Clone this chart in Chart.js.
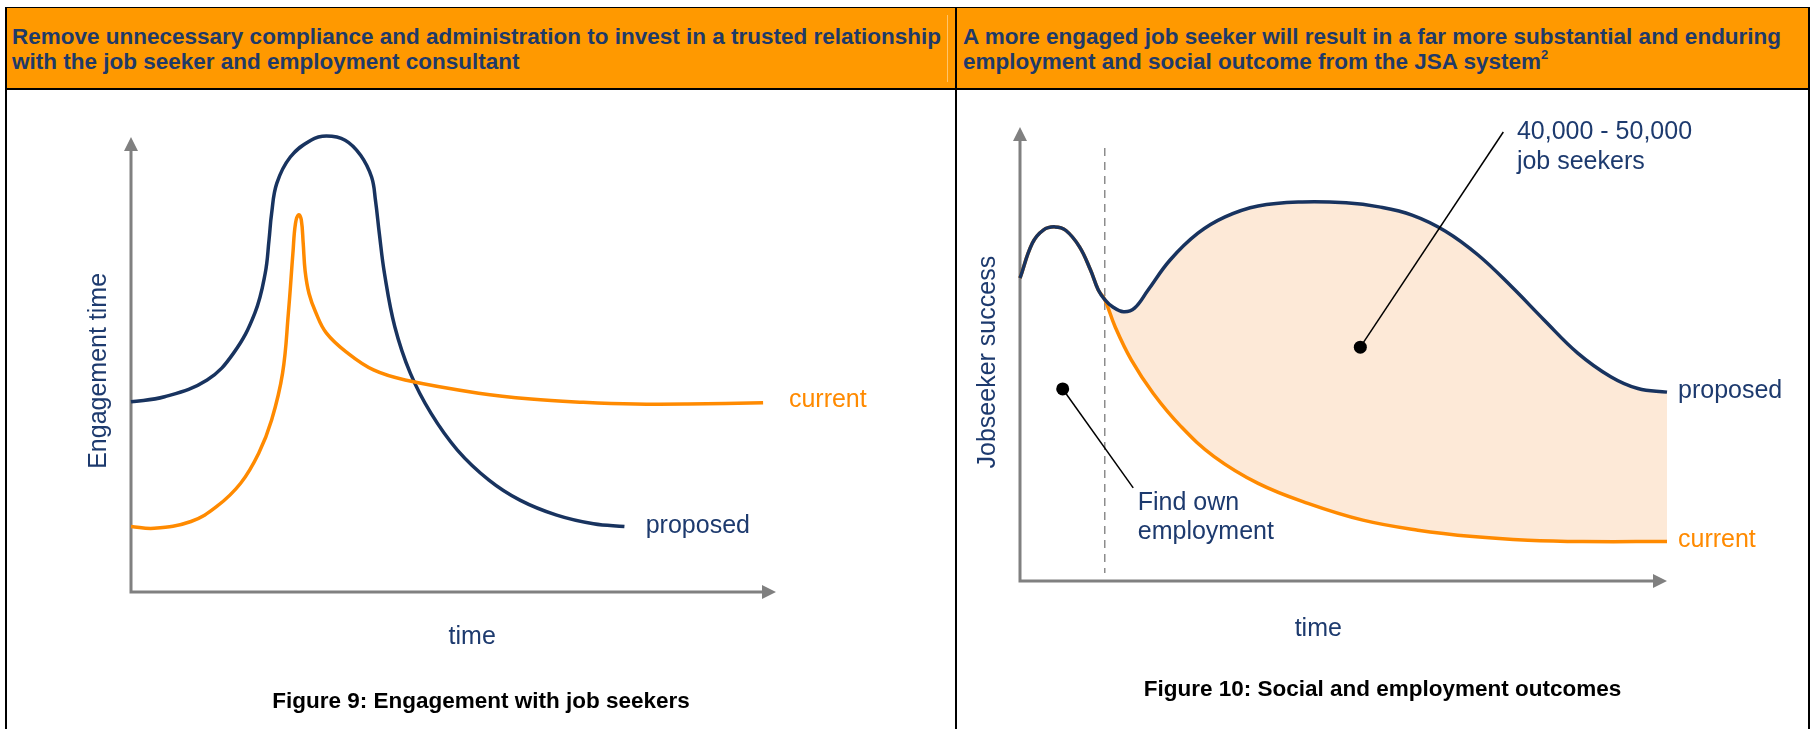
<!DOCTYPE html>
<html>
<head>
<meta charset="utf-8">
<script src="https://cdn.jsdelivr.net/npm/chart.js@4.4.1/dist/chart.umd.min.js"></script>
<style>
  html, body { margin: 0; padding: 0; background: #fff; }
  body { width: 1813px; height: 729px; position: relative; overflow: hidden; font-family: "Liberation Sans", Arial, sans-serif; }
  .rule { position: absolute; background: #000; }
  .head { position: absolute; top: 8px; height: 80px; left: 5px; width: 1805px; background: #ff9900; }
  .headText { position: absolute; top: 24px; font-weight: bold; font-size: 22.5px; line-height: 25px; color: #1f3a68; white-space: nowrap; }
  .headText sup { font-size: 13px; line-height: 0; vertical-align: 10px; }
  .caption { position: absolute; font-weight: bold; font-size: 22.5px; line-height: 25px; color: #000; white-space: nowrap; text-align: center; }
  canvas { position: absolute; }
</style>
</head>
<body>
<div class="head"></div>
<div class="rule" style="left:947px;top:15px;width:1px;height:67px;background:#ffc46a"></div>
<div class="rule" style="left:5px;top:7px;width:1805px;height:1px"></div>
<div class="rule" style="left:5px;top:88px;width:1805px;height:2px"></div>
<div class="rule" style="left:5px;top:7px;width:2px;height:722px"></div>
<div class="rule" style="left:955px;top:7px;width:2px;height:722px"></div>
<div class="rule" style="left:1808px;top:7px;width:2px;height:722px"></div>

<div class="headText" style="left:12px">Remove unnecessary compliance and administration to invest in a trusted relationship<br>with the job seeker and employment consultant</div>
<div class="headText" style="left:963px">A more engaged job seeker will result in a far more substantial and enduring<br>employment and social outcome from the JSA system<sup>2</sup></div>

<canvas id="engageChart" width="947" height="638" style="left:7px;top:91px;width:947px;height:638px"></canvas>
<canvas id="outcomeChart" width="850" height="638" style="left:958px;top:91px;width:850px;height:638px"></canvas>

<div class="caption" style="left:7px;width:948px;top:688px">Figure 9: Engagement with job seekers</div>
<div class="caption" style="left:957px;width:851px;top:676px">Figure 10: Social and employment outcomes</div>

<script>
// time runs 0..100 along x, the measure 0..100 up y (axis arrow tips at 100)
const engageProposed = [
  [0, 41.8], [5.2, 42.9], [11.8, 46.6], [15.9, 52.5], [19.2, 61.3], [20.8, 70.0],
  [21.4, 77.4], [21.8, 83.2], [22.6, 89.8], [24.7, 95.6], [27.9, 99.3], [30.3, 100.2],
  [33.2, 99.3], [35.6, 96.0], [37.3, 91.2], [37.9, 86.1], [38.5, 78.8], [39.3, 70.0],
  [40.9, 58.3], [43.3, 48.1], [46.5, 39.3], [50.6, 31.2], [55.5, 24.6], [60.3, 20.2],
  [66.0, 16.9], [71.7, 15.0], [76.5, 14.4]
];
const engageCurrent = [
  [0, 14.4], [3.6, 14.0], [9.3, 15.5], [13.3, 18.8], [17.0, 23.9], [19.8, 30.5],
  [21.8, 37.8], [23.5, 48.1], [24.4, 61.3], [25.1, 74.4], [25.5, 81.0], [26.0, 82.9],
  [26.4, 81.8], [26.7, 76.6], [27.0, 70.5], [27.6, 65.6], [28.6, 61.6], [30.3, 56.9],
  [33.6, 52.5], [37.6, 48.8], [42.5, 46.6], [53.9, 43.7], [62.0, 42.4], [70.1, 41.7],
  [78.2, 41.3], [86.3, 41.3], [98.0, 41.6]
];

const outcomeProposed = [
  [0, 66.7], [1.9, 74.4], [3.6, 77.3], [5.4, 78.0], [7.1, 77.2], [9.2, 73.6],
  [10.9, 68.5], [12.1, 64.1], [13.1, 62.0], [14.3, 60.4], [16.0, 59.3], [17.7, 60.1],
  [19.8, 64.1], [23.2, 70.7], [27.5, 76.6], [31.7, 80.2], [36.8, 82.6], [43.6, 83.5],
  [50.4, 83.3], [55.5, 82.4], [60.6, 80.6], [65.7, 77.1], [70.8, 71.8], [76.0, 64.8],
  [81.0, 57.5], [86.2, 50.2], [91.3, 45.0], [95.5, 42.4], [100, 41.6]
];
const outcomeCurrent = [
  [0, 66.7], [1.9, 74.4], [3.6, 77.3], [5.4, 78.0], [7.1, 77.2], [9.2, 73.6],
  [10.9, 68.5], [12.1, 64.1], [13.1, 62.0], [14.7, 56.0], [17.2, 48.7], [20.6, 41.3],
  [24.9, 34.0], [30.0, 27.4], [36.8, 21.5], [44.5, 17.1], [53.0, 13.4], [61.5, 11.2],
  [70.0, 9.8], [78.5, 9.0], [87.0, 8.7], [100, 8.7]
];
// point where job seekers who find their own work drop out
const outcomeSplit = 13.1;
// callout pointers: dot first, then the end near the text
const crowdPointer = [[52.6, 51.5], [74.7, 98.9]];
const ownPointer = [[6.6, 42.3], [17.5, 20.5]];

const crowdNote = ['40,000 - 50,000', 'job seekers'];
const ownNote = ['Find own', 'employment'];

const NAVY = '#18335f';
const NAVY_TEXT = '#1d3a6e';
const ORANGE = '#ff8a00';
const AXIS = '#808080';
const FONT = '25px "Liberation Sans", Arial, sans-serif';

const toPoints = pairs => pairs.map(([x, y]) => ({ x, y }));

// arrowed axes, divider and the text callouts
const sketchPlugin = {
  id: 'sketch',
  beforeDatasetsDraw(chart, args, opts) {
    const { ctx, chartArea: a, scales } = chart;
    ctx.save();
    if (opts.divider != null) {
      const dx = scales.x.getPixelForValue(opts.divider);
      ctx.strokeStyle = '#8c8c8c';
      ctx.lineWidth = 1.5;
      ctx.setLineDash([8, 6]);
      ctx.beginPath();
      ctx.moveTo(dx, a.top + 21);
      ctx.lineTo(dx, a.bottom - 8);
      ctx.stroke();
      ctx.setLineDash([]);
    }
    ctx.strokeStyle = AXIS;
    ctx.fillStyle = AXIS;
    ctx.lineWidth = 3;
    ctx.beginPath();
    ctx.moveTo(a.left, a.bottom + 1.5);
    ctx.lineTo(a.left, a.top + 12);
    ctx.moveTo(a.left - 1.5, a.bottom);
    ctx.lineTo(a.right - 12, a.bottom);
    ctx.stroke();
    ctx.beginPath();
    ctx.moveTo(a.left, a.top);
    ctx.lineTo(a.left - 7, a.top + 14);
    ctx.lineTo(a.left + 7, a.top + 14);
    ctx.closePath();
    ctx.moveTo(a.right, a.bottom);
    ctx.lineTo(a.right - 14, a.bottom - 7);
    ctx.lineTo(a.right - 14, a.bottom + 7);
    ctx.closePath();
    ctx.fill();
    ctx.restore();
  },
  afterDatasetsDraw(chart, args, opts) {
    const { ctx, scales } = chart;
    ctx.save();
    ctx.font = FONT;
    (opts.notes || []).forEach(n => {
      const px = scales.x.getPixelForValue(n.x);
      const py = scales.y.getPixelForValue(n.y);
      ctx.fillStyle = n.color || NAVY_TEXT;
      if (n.rotate) {
        ctx.save();
        ctx.translate(px, py);
        ctx.rotate(-Math.PI / 2);
        ctx.textAlign = 'center';
        ctx.textBaseline = 'middle';
        ctx.fillText(n.text, 0, 0);
        ctx.restore();
      } else {
        ctx.textAlign = n.align || 'left';
        ctx.textBaseline = 'alphabetic';
        ctx.fillText(n.text, px, py);
      }
    });
    ctx.restore();
  }
};

function baseOptions(padding, sketch) {
  return {
    responsive: false,
    animation: false,
    events: [],
    layout: { padding },
    scales: {
      x: { type: 'linear', min: 0, max: 100, display: false },
      y: { min: 0, max: 100, display: false }
    },
    elements: { point: { radius: 0 } },
    plugins: {
      legend: { display: false },
      tooltip: { enabled: false },
      filler: { drawTime: 'beforeDatasetsDraw' },
      sketch
    }
  };
}

function curve(points, color, extra) {
  return Object.assign({
    data: toPoints(points),
    borderColor: color,
    borderWidth: 3.5,
    tension: 0.4,
    pointRadius: 0,
    fill: false,
    clip: false
  }, extra || {});
}

function pointer(points) {
  return {
    data: toPoints(points),
    borderColor: '#000',
    borderWidth: 1.5,
    tension: 0,
    pointRadius: [6.5, 0],
    pointBackgroundColor: '#000',
    pointBorderWidth: 0,
    fill: false,
    clip: false
  };
}

new Chart(document.getElementById('engageChart'), {
  type: 'line',
  data: {
    datasets: [
      curve(engageCurrent, ORANGE),
      curve(engageProposed, NAVY)
    ]
  },
  options: baseOptions(
    { left: 124, right: 178, top: 46, bottom: 137 },
    {
      notes: [
        { text: 'current', x: 102.0, y: 40.7, color: ORANGE },
        { text: 'proposed', x: 79.8, y: 13.0 },
        { text: 'time', x: 52.9, y: -11.4, align: 'center' },
        { text: 'Engagement time', x: -5.0, y: 48.6, rotate: true }
      ]
    }
  ),
  plugins: [sketchPlugin]
});

new Chart(document.getElementById('outcomeChart'), {
  type: 'line',
  data: {
    datasets: [
      pointer(crowdPointer),
      pointer(ownPointer),
      curve(outcomeProposed, NAVY, { fill: '+1', backgroundColor: '#fde9d7' }),
      curve(outcomeCurrent, ORANGE)
    ]
  },
  options: baseOptions(
    { left: 62, right: 141, top: 36, bottom: 148 },
    {
      divider: outcomeSplit,
      notes: [
        { text: 'proposed', x: 101.7, y: 40.3 },
        { text: 'current', x: 101.7, y: 7.5, color: ORANGE },
        { text: crowdNote[0], x: 76.8, y: 97.4 },
        { text: crowdNote[1], x: 76.8, y: 90.7 },
        { text: ownNote[0], x: 18.2, y: 15.6 },
        { text: ownNote[1], x: 18.2, y: 9.3 },
        { text: 'time', x: 46.1, y: -12.1, align: 'center' },
        { text: 'Jobseeker success', x: -4.9, y: 48.2, rotate: true }
      ]
    }
  ),
  plugins: [sketchPlugin]
});
</script>
</body>
</html>
